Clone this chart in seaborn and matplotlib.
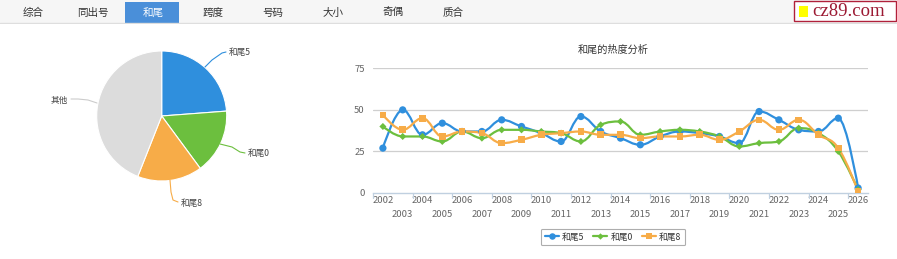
import numpy as np
import pandas as pd
import seaborn as sns
import matplotlib
matplotlib.use('Agg')
import matplotlib.pyplot as plt
from matplotlib.path import Path
from matplotlib.patches import PathPatch, Rectangle
from matplotlib.lines import Line2D

# ---------------- data ----------------
tabs = ['综合', '同出号', '和尾', '跨度', '号码', '大小', '奇偶', '质合']
active_tab = '和尾'
years = [str(y) for y in range(2002, 2027)]
s5 = [27, 50, 35, 42, 37, 37, 44, 40, 36, 31, 46, 37, 33, 29, 34, 37, 36, 34, 30, 49, 44, 38, 37, 45, 3]
s0 = [40, 34, 34, 31, 37, 33, 38, 38, 37, 36, 31, 41, 43, 35, 37, 38, 37, 34, 28, 30, 31, 39, 36, 25, 2]
s8 = [47, 38, 45, 34, 37, 36, 30, 32, 35, 36, 37, 35, 35, 33, 34, 34, 35, 32, 37, 44, 38, 44, 35, 27, 1]
series_names = ['和尾5', '和尾0', '和尾8']
pie_labels = ['和尾5', '和尾0', '和尾8', '其他']
pie_values = [23.8, 16.1, 16.1, 44.0]
yticks = [0, 25, 50, 75]
title = '和尾的热度分析'

colors = {'和尾5': '#2f8fdd', '和尾0': '#6cbf3e', '和尾8': '#f7ac48'}
pie_colors = ['#2f8fdd', '#6cbf3e', '#f7ac48', '#dcdcdc']
markers = {'和尾5': 'o', '和尾0': 'D', '和尾8': 's'}
msize = {'和尾5': 5.2, '和尾0': 3.6, '和尾8': 4.8}

sns.set_theme(style='white')
plt.rcParams['font.family'] = ['Noto Sans CJK SC', 'DejaVu Sans']

W, H = 897, 259
fig = plt.figure(figsize=(W / 100, H / 100), dpi=100)

def fx(px):
    return px / W

def fy(py):
    return 1 - py / H

# ---------------- tab bar ----------------
bar = fig.add_axes([0, fy(23.5), 1, 23.5 / H])
bar.set_xlim(0, W); bar.set_ylim(23.5, 0)
bar.axis('off')
bar.add_patch(Rectangle((0, 0), W, 23.5, facecolor='#f6f6f6', edgecolor='none'))
bar.plot([0, W], [23, 23], color='#dedede', lw=1)
for i, t in enumerate(tabs):
    cx = 33 + 60 * i
    if t == active_tab:
        bar.add_patch(Rectangle((125, 2), 54, 21.5, facecolor='#4a8fd9', edgecolor='none'))
        bar.text(cx, 12.5, t, ha='center', va='center', fontsize=7.6, color='white')
    else:
        bar.text(cx, 12.5, t, ha='center', va='center', fontsize=7.6, color='#333333')
# logo
bar.add_patch(Rectangle((793.5, 0.8), 102.5, 20.5, facecolor='white', edgecolor='#b0203a', lw=1.0))
bar.add_patch(Rectangle((798.5, 5.5), 9.5, 11, facecolor='#ffff00', edgecolor='none'))
bar.text(812, 11.5, 'cz89.com', ha='left', va='center', fontsize=13.5,
         family='Liberation Serif', color='#9c1a33')

# ---------------- pie ----------------
cxp, cyp, r = 161.7, 116, 65
pax = fig.add_axes([fx(cxp - r), fy(cyp + r), 2 * r / W, 2 * r / H])
pax.pie(pie_values, colors=pie_colors, startangle=90, counterclock=False,
        radius=1, wedgeprops=dict(edgecolor='white', linewidth=0.8))
pax.set_xlim(-1, 1); pax.set_ylim(-1, 1)
pax.set_aspect('auto')
pax.axis('off')

lab_ax = fig.add_axes([0, 0, 1, 1], facecolor='none')
lab_ax.set_xlim(0, W); lab_ax.set_ylim(H, 0)
lab_ax.axis('off')
leaders = {
    '和尾5': ([205, 212, 222, 226], [67, 60, 53, 52], (229, 52), 'left'),
    '和尾0': ([220, 232, 240, 245], [144, 147, 152, 153], (248, 153), 'left'),
    '和尾8': ([170, 171, 173, 178], [180, 192, 200, 202], (181, 203), 'left'),
    '其他': ([97, 88, 78, 71], [103, 100, 99, 99], (68, 100), 'right'),
}
for lab, col in zip(pie_labels, pie_colors):
    xs, ys, tp, ha = leaders[lab]
    lab_ax.plot(xs, ys, color=col if lab != '其他' else '#cccccc', lw=0.8)
    lab_ax.text(tp[0], tp[1], lab, ha=ha, va='center', fontsize=6.2, color='#444444')

# ---------------- line chart ----------------
left, right, top, bottom = 373, 868, 68.3, 193
ax = fig.add_axes([fx(left), fy(bottom), (right - left) / W, (bottom - top) / H])
df = pd.DataFrame({
    'year': years * 3,
    'idx': list(range(len(years))) * 3,
    'value': s5 + s0 + s8,
    'series': [series_names[0]] * len(years) + [series_names[1]] * len(years) + [series_names[2]] * len(years),
})


def spline_path(xs, ys):
    n = len(xs)
    lc = [None] * n
    rc = [None] * n
    sm, den = 1.5, 2.5
    for i in range(1, n - 1):
        px, py = xs[i], ys[i]
        lx, ly = xs[i - 1], ys[i - 1]
        nx, ny = xs[i + 1], ys[i + 1]
        lcx = (sm * px + lx) / den; lcy = (sm * py + ly) / den
        rcx = (sm * px + nx) / den; rcy = (sm * py + ny) / den
        if rcx != lcx:
            corr = ((rcy - lcy) * (rcx - px)) / (rcx - lcx) + py - rcy
            lcy += corr; rcy += corr
        if lcy > ly and lcy > py:
            lcy = max(ly, py); rcy = 2 * py - lcy
        elif lcy < ly and lcy < py:
            lcy = min(ly, py); rcy = 2 * py - lcy
        if rcy > ny and rcy > py:
            rcy = max(ny, py); lcy = 2 * py - rcy
        elif rcy < ny and rcy < py:
            rcy = min(ny, py); lcy = 2 * py - rcy
        lc[i] = (lcx, lcy); rc[i] = (rcx, rcy)
    verts = [(xs[0], ys[0])]
    codes = [Path.MOVETO]
    for i in range(1, n):
        c1 = rc[i - 1] if rc[i - 1] is not None else (xs[i - 1], ys[i - 1])
        c2 = lc[i] if lc[i] is not None else (xs[i], ys[i])
        verts += [c1, c2, (xs[i], ys[i])]
        codes += [Path.CURVE4] * 3
    return Path(verts, codes)


for name in series_names:
    sub = df[df['series'] == name]
    p = spline_path(list(sub['idx'].astype(float)), list(sub['value'].astype(float)))
    ax.add_patch(PathPatch(p, facecolor='none', edgecolor=colors[name], lw=1.6, zorder=3))

for name in series_names:
    sub = df[df['series'] == name]
    sns.scatterplot(data=sub, x='idx', y='value', ax=ax, color=colors[name],
                    marker=markers[name], s=msize[name] ** 2, edgecolor='none',
                    linewidth=0, zorder=4, legend=False)

ax.set_xlim(-0.5, len(years) - 0.5)
ax.set_ylim(0, 75)
ax.set_yticks(yticks)
ax.set_yticklabels([str(v) for v in yticks], fontsize=6.8, color='#666666')
for v in yticks[1:]:
    ax.axhline(v, color='#cfcfcf', lw=0.9, zorder=1)
for s in ['top', 'right', 'left']:
    ax.spines[s].set_visible(False)
ax.spines['bottom'].set_color('#c0d0e0')
ax.spines['bottom'].set_linewidth(1)
ax.tick_params(axis='y', length=0, pad=6)

even = list(range(0, len(years), 2))
odd = list(range(1, len(years), 2))
ax.set_xticks(even)
ax.set_xticklabels([years[i] for i in even], fontsize=6.8, color='#666666')
ax.set_xticks(odd, minor=True)
ax.set_xticklabels([years[i] for i in odd], minor=True, fontsize=6.8, color='#666666')
ax.tick_params(axis='x', which='major', length=0, pad=2.5)
ax.tick_params(axis='x', which='minor', length=0, pad=12.5)
ax.set_xlabel(''); ax.set_ylabel('')
for b in np.arange(-0.5, len(years), 2):
    ax.plot([b, b], [0, -0.04], transform=ax.get_xaxis_transform(), color='#c0d0e0',
            lw=0.9, clip_on=False)

fig.text(fx(613), fy(50), title, ha='center', va='center', fontsize=7.3, color='#333333')

handles = [Line2D([0], [0], color=colors[n], lw=1.6, marker=markers[n],
                  markersize=msize[n] * 0.9, markeredgewidth=0) for n in series_names]
leg = fig.legend(handles, series_names, loc='center', bbox_to_anchor=(fx(613), fy(237)),
                 ncol=3, fontsize=6.3, frameon=True, fancybox=True, handlelength=1.6,
                 handletextpad=0.4, columnspacing=1.0, borderpad=0.45)
leg.get_frame().set_edgecolor('#999999')
leg.get_frame().set_linewidth(0.8)
for t in leg.get_texts():
    t.set_color('#333333')

fig.savefig('out.png', dpi=100)
